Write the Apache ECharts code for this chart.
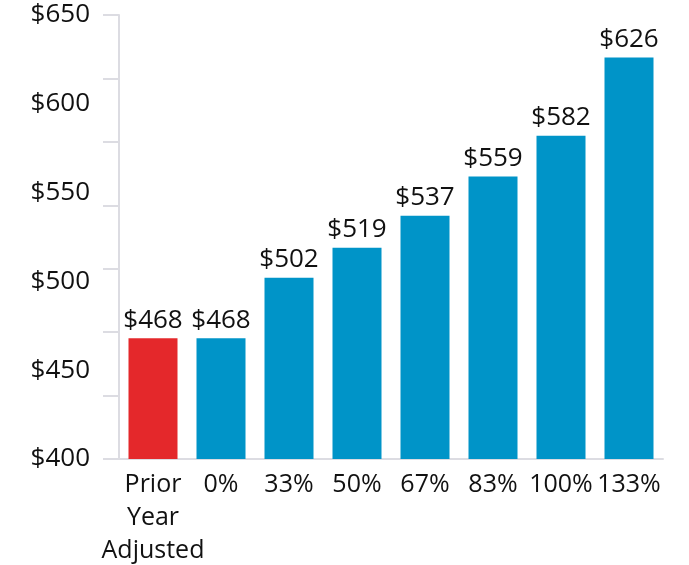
<!DOCTYPE html>
<html><head><meta charset="utf-8">
<script src="https://cdn.jsdelivr.net/npm/echarts@6/dist/echarts.min.js"></script>
<style>html,body{margin:0;padding:0;background:#fff}#c{width:689px;height:565px}</style>
</head><body><div id="c"></div>
<script>
const categories = ['Prior\nYear\nAdjusted', '0%', '33%', '50%', '67%', '83%', '100%', '133%'];
const values = [468, 468, 502, 519, 537, 559, 582, 626];
const highlightIndex = 0;
const yMin = 400, yMax = 650, yStep = 50;

const chart = echarts.init(document.getElementById('c'));
const font = '"Open Sans", Lato, sans-serif';
chart.setOption({
  animation: false,
  grid: {left: 119, right: 26, top: 15, bottom: 106, outerBoundsMode: 'none', containLabel: false},
  xAxis: {
    type: 'category', data: categories,
    axisLine: {show: true, lineStyle: {color: '#dcdce2', width: 2}},
    axisTick: {show: false},
    axisLabel: {interval: 0, color: '#111', fontFamily: font, fontSize: 25, lineHeight: 33, margin: 9}
  },
  yAxis: [{
    type: 'value', min: yMin, max: yMax, interval: yStep,
    axisLine: {show: true, lineStyle: {color: '#dcdce2', width: 2}},
    axisTick: {show: false},
    splitLine: {show: false},
    axisLabel: {color: '#111', fontFamily: font, fontSize: 26, margin: 29, formatter: v => '$' + v}
  }, {
    type: 'value', min: 0, max: 7, interval: 1, position: 'left',
    axisLine: {show: false},
    axisTick: {show: true, inside: false, length: 16, lineStyle: {color: '#dcdce2', width: 2}},
    axisLabel: {show: false},
    splitLine: {show: false}
  }],
  series: [{
    type: 'bar', yAxisIndex: 0, barWidth: 49,
    data: values.map((v, i) => ({value: v, itemStyle: {color: i === highlightIndex ? '#e4282b' : '#0094c8'}})),
    label: {show: true, position: 'top', distance: 5, color: '#111', fontFamily: font, fontSize: 26, formatter: p => '$' + p.value}
  }]
});
</script></body></html>
